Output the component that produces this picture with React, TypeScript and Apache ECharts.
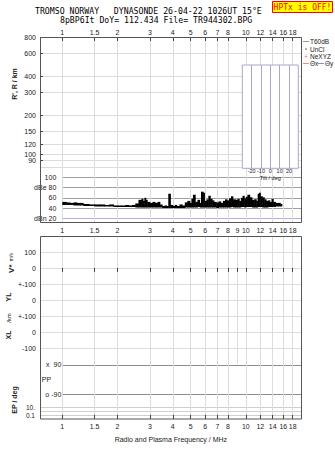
import React, { useEffect, useRef } from 'react';
import * as echarts from 'echarts';

// ---- tick values / labels ----
const freqTicks = [1, 1.5, 2, 3, 4, 5, 6, 7, 8, 10, 12, 14, 16, 18];
const freqTicksMid = [1, 1.5, 2, 3, 4, 5, 6, 7, 8, 9, 10, 12, 14, 16, 18];
const heightTicks = [80, 90, 100, 120, 150, 200, 300, 400, 600, 800];
const dbTicks = [20, 40, 60, 80, 100];
const dbTickLabels = ['dBn 20', '40', '60', 'dBe 80', '100'];
const stackTicks = [100, 0, -100, -200, -300, -400, -500];
const stackTickLabels = ['100', '0', '+-100', '0', '+-100', '0', '-100'];
const ppTicks = [90, -90];
const ppTickLabels = ['x  90', 'o -90'];
const epTicks = [0.1, 1, 10];
const epTickLabels = ['0.1', '', '10.'];
const tiltTicks = [-20, -10, 0, 10, 20];

// ---- noise (dB) vs frequency (MHz) ----
const noiseFreq = [
  1.0, 1.05, 1.1, 1.15, 1.2, 1.25, 1.3, 1.4, 1.5, 1.6, 1.7, 1.8, 1.9, 2.0, 2.1, 2.2, 2.3, 2.4,
  2.5, 2.6, 2.7, 2.75, 2.8, 2.85, 2.9, 3.0, 3.1, 3.2, 3.3, 3.4, 3.5, 3.6, 3.7, 3.78, 3.88,
  4.0, 4.1, 4.2, 4.35, 4.5, 4.65, 4.8, 4.95, 5.05, 5.15, 5.3, 5.45, 5.6, 5.7, 5.85, 5.95,
  6.1, 6.25, 6.4, 6.55, 6.7, 6.9, 7.1, 7.3, 7.5, 7.7, 7.9, 8.1, 8.3, 8.5, 8.8, 9.0, 9.2,
  9.4, 9.6, 9.8, 10.0, 10.2, 10.5, 10.8, 11.1, 11.4, 11.6, 11.8, 12.0, 12.3, 12.6, 12.9,
  13.2, 13.5, 13.8, 14.1, 14.5, 15.0, 15.4,
];
const noiseLo = [
  46, 46, 46, 45, 45, 45, 44, 44, 43, 43, 43, 43, 42, 42, 42, 42, 42, 42,
  41, 41, 41, 41, 41, 41, 41, 41, 41, 41, 41, 41, 40, 40, 40, 40, 40,
  40, 40, 40, 40, 40, 41, 41, 41, 41, 41, 41, 42, 41, 41, 41, 41,
  41, 41, 41, 41, 41, 40, 41, 41, 41, 41, 41, 41, 42, 41, 41, 41, 41,
  42, 42, 41, 42, 42, 42, 41, 41, 41, 42, 42, 42, 41, 41, 41,
  42, 42, 42, 42, 43, 43, 43,
];
const noiseHi = [
  52, 51, 50, 51, 50, 50, 48, 47, 47, 47, 46, 47, 45, 45, 45, 46, 45, 46,
  49, 56, 58, 54, 60, 56, 52, 50, 52, 50, 52, 47, 44, 45, 44, 68, 46,
  44, 46, 44, 47, 45, 51, 54, 50, 58, 66, 52, 56, 50, 72, 70, 54,
  57, 64, 58, 55, 52, 51, 53, 50, 54, 57, 55, 59, 63, 57, 56, 58, 54,
  60, 64, 59, 62, 66, 61, 56, 57, 54, 68, 70, 63, 61, 57, 54,
  55, 52, 58, 52, 50, 50, 48,
];

const FONT = '"Liberation Sans", Arial, sans-serif';
const MONO = '"DejaVu Sans Mono", monospace';
const FMIN = 0.7558;
const FMAX = 20.16;
const GRID_LIGHT = '#dcdcdc';
const TICK_C = '#444';
const LABEL_C = '#222';

const fmtFreq = (v: number) => String(Math.round(v * 10) / 10);
const pick = (vals: number[], labels: string[]) => (v: number) => {
  let best = 0;
  for (let i = 1; i < vals.length; i++) {
    if (Math.abs(vals[i] - v) < Math.abs(vals[best] - v)) best = i;
  }
  return labels[best];
};

export default function App() {
  const ref = useRef<HTMLDivElement>(null);
  useEffect(() => {
    if (!ref.current) return;
    const chart = echarts.init(ref.current, undefined, { renderer: 'svg' });

    const freqX = (grid: number, min: number, extra: any) => ({
      type: 'log',
      gridIndex: grid,
      min,
      max: FMAX,
      axisLine: { show: false },
      axisTick: { show: false, customValues: freqTicks },
      axisLabel: { show: false, customValues: freqTicks },
      splitLine: { show: true, lineStyle: { color: GRID_LIGHT, width: 1 } },
      ...extra,
    });

    const noiseData = noiseFreq.map((f, i) => [
      f,
      noiseLo[i],
      noiseHi[i],
      i < noiseFreq.length - 1 ? noiseFreq[i + 1] : f * 1.02,
    ]);

    const option: any = {
      animation: false,
      backgroundColor: '#fff',
      grid: [
        { left: 40, width: 261.7, top: 37, height: 135.3 },
        { left: 62.3, width: 239.4, top: 172.3, height: 50 },
        { left: 40, width: 261.7, top: 236, height: 128 },
        { left: 62.3, width: 239.4, top: 364, height: 36 },
        { left: 40, width: 261.7, top: 400, height: 19 },
        {
          left: 242.3, width: 56, top: 65, height: 103.3, show: true,
          backgroundColor: '#fff', borderColor: '#a8a8c8', borderWidth: 1, z: 3,
        },
      ],
      xAxis: [
        freqX(0, FMIN, {
          position: 'top',
          axisTick: { show: true, inside: true, length: 4, customValues: freqTicks, lineStyle: { color: TICK_C } },
          axisLabel: { show: true, customValues: freqTicks, fontSize: 7, fontFamily: FONT, color: LABEL_C, margin: 1, formatter: fmtFreq },
        }),
        freqX(1, 1, {}),
        freqX(2, FMIN, {
          position: 'top',
          axisTick: { show: true, inside: true, length: 4, customValues: freqTicksMid, lineStyle: { color: TICK_C } },
          axisLabel: { show: true, customValues: freqTicksMid, fontSize: 7, fontFamily: FONT, color: LABEL_C, margin: 2.5, formatter: fmtFreq },
        }),
        freqX(3, 1, {}),
        freqX(4, FMIN, {
          position: 'bottom',
          axisTick: { show: true, inside: true, length: 4, customValues: freqTicks, lineStyle: { color: TICK_C } },
          axisLabel: { show: true, customValues: freqTicks, fontSize: 7, fontFamily: FONT, color: LABEL_C, margin: 3.5, formatter: fmtFreq },
          name: 'Radio and Plasma Frequency / MHz',
          nameLocation: 'middle',
          nameGap: 17,
          nameTextStyle: { fontSize: 7, fontFamily: FONT, color: LABEL_C },
        }),
        {
          type: 'value', gridIndex: 5, min: -30, max: 30, z: 4,
          axisLine: { show: false },
          axisTick: { show: false, customValues: tiltTicks },
          axisLabel: { show: true, customValues: tiltTicks, fontSize: 5.5, fontFamily: FONT, color: LABEL_C, margin: 0 },
          splitLine: { show: true, lineStyle: { color: '#a8a8c8' } },
          name: 'Tilt / deg', nameLocation: 'middle', nameGap: 3.5,
          nameTextStyle: { fontSize: 5.5, fontFamily: FONT, color: LABEL_C },
        },
      ],
      yAxis: [
        {
          type: 'log', gridIndex: 0, min: 73, max: 800,
          axisLine: { show: false },
          axisTick: { show: true, inside: true, length: 3, customValues: heightTicks, lineStyle: { color: TICK_C } },
          axisLabel: { customValues: heightTicks, fontSize: 7, fontFamily: FONT, color: LABEL_C, margin: 4, formatter: (v: number) => String(Math.round(v)) },
          splitLine: { show: true, lineStyle: { color: GRID_LIGHT } },
        },
        {
          type: 'value', gridIndex: 1, min: 12, max: 110,
          axisLine: { show: false },
          axisTick: { show: false, customValues: dbTicks },
          axisLabel: { customValues: dbTicks, fontSize: 7, fontFamily: FONT, color: LABEL_C, margin: 6, formatter: pick(dbTicks, dbTickLabels) },
          splitLine: { show: true, lineStyle: { color: ['#b0b0ea', '#a0a0a0', '#a0a0a0', '#a0a0a0', '#a0a0a0'] } },
        },
        {
          type: 'value', gridIndex: 2, min: -600, max: 200,
          axisLine: { show: false },
          axisTick: { show: false, customValues: stackTicks },
          axisLabel: { customValues: stackTicks, fontSize: 7, fontFamily: FONT, color: LABEL_C, margin: 4, formatter: pick(stackTicks, stackTickLabels) },
          splitLine: { show: true, lineStyle: { color: GRID_LIGHT } },
        },
        {
          type: 'value', gridIndex: 3, min: -127, max: 96,
          axisLine: { show: false },
          axisTick: { show: false, customValues: ppTicks },
          axisLabel: { customValues: ppTicks, fontSize: 7, fontFamily: FONT, color: LABEL_C, margin: 1, formatter: pick(ppTicks, ppTickLabels) },
          splitLine: { show: true, lineStyle: { color: '#8a8a8a' } },
        },
        {
          type: 'log', gridIndex: 4, min: 0.01, max: 800,
          axisLine: { show: false },
          axisTick: { show: false, customValues: epTicks },
          axisLabel: { customValues: epTicks, fontSize: 6.5, fontFamily: FONT, color: LABEL_C, margin: 5, formatter: pick(epTicks, epTickLabels) },
          splitLine: { show: true, lineStyle: { color: '#d0d0d0' } },
        },
        { type: 'value', gridIndex: 5, min: 0, max: 1, show: false },
      ],
      series: [
        {
          type: 'custom',
          name: 'noise',
          xAxisIndex: 1,
          yAxisIndex: 1,
          data: noiseData,
          renderItem: (params: any, api: any) => {
            const p1 = api.coord([api.value(0), api.value(2)]);
            const p2 = api.coord([api.value(3), api.value(1)]);
            return {
              type: 'rect',
              shape: { x: p1[0], y: p1[1], width: p2[0] - p1[0] + 0.5, height: p2[1] - p1[1] },
              style: { fill: '#000' },
            };
          },
        },
      ],
      graphic: [
        // frames
        { type: 'rect', shape: { x: 40.5, y: 37.5, width: 261, height: 185 }, style: { fill: 'none', stroke: '#555', lineWidth: 1 }, z: 10 },
        { type: 'rect', shape: { x: 40.5, y: 236.5, width: 261, height: 182.5 }, style: { fill: 'none', stroke: '#555', lineWidth: 1 }, z: 10 },
        // header
        { type: 'text', x: 35, y: 10.5, style: { text: 'TROMSO NORWAY   DYNASONDE 26-04-22 1026UT 15°E', font: `8.2px ${MONO}`, fill: '#000', align: 'left', verticalAlign: 'middle' } },
        { type: 'text', x: 60, y: 20, style: { text: '8pBP6It DoY= 112.434 File= TR944302.BPG', font: `8.2px ${MONO}`, fill: '#000', align: 'left', verticalAlign: 'middle' } },
        { type: 'rect', shape: { x: 272.5, y: 1.5, width: 60, height: 11 }, style: { fill: '#ffff00', stroke: '#ff0000', lineWidth: 1 } },
        { type: 'text', x: 302.5, y: 7.2, style: { text: 'HPTx is OFF!', font: `8px ${MONO}`, fill: '#ff0000', align: 'center', verticalAlign: 'middle' } },
        // legend
        { type: 'line', shape: { x1: 303, y1: 41.5, x2: 309, y2: 41.5 }, style: { stroke: '#9a9a9a', lineWidth: 1 } },
        { type: 'text', x: 310, y: 41.5, style: { text: 'T60dB', font: `6.5px ${FONT}`, fill: LABEL_C, align: 'left', verticalAlign: 'middle' } },
        { type: 'circle', shape: { cx: 306, cy: 49, r: 0.7 }, style: { fill: '#333' } },
        { type: 'text', x: 310, y: 49, style: { text: 'UnCl', font: `6.5px ${FONT}`, fill: LABEL_C, align: 'left', verticalAlign: 'middle' } },
        { type: 'text', x: 306, y: 56.3, style: { text: '+', font: `7px ${FONT}`, fill: '#e87c9c', align: 'center', verticalAlign: 'middle' } },
        { type: 'text', x: 310, y: 56.3, style: { text: 'NeXYZ', font: `6.5px ${FONT}`, fill: LABEL_C, align: 'left', verticalAlign: 'middle' } },
        { type: 'line', shape: { x1: 303, y1: 63.5, x2: 309, y2: 63.5 }, style: { stroke: '#f08a8a', lineWidth: 1 } },
        { type: 'text', x: 310, y: 63.7, style: { text: 'Θx', font: `6.5px ${FONT}`, fill: LABEL_C, align: 'left', verticalAlign: 'middle' } },
        { type: 'line', shape: { x1: 318, y1: 63.5, x2: 324, y2: 63.5 }, style: { stroke: '#7a8ef0', lineWidth: 1 } },
        { type: 'text', x: 325, y: 63.7, style: { text: 'Θy', font: `6.5px ${FONT}`, fill: LABEL_C, align: 'left', verticalAlign: 'middle' } },
        // PP label
        { type: 'text', x: 46.5, y: 379.5, style: { text: 'PP', font: `7px ${FONT}`, fill: LABEL_C, align: 'center', verticalAlign: 'middle' } },
        // rotated axis titles
        { type: 'text', x: 14, y: 84, rotation: Math.PI / 2, style: { text: "R', R / km", font: `bold 7px ${FONT}`, fill: LABEL_C, align: 'center', verticalAlign: 'middle' } },
        {
          type: 'text', x: 11, y: 263, rotation: Math.PI / 2,
          style: {
            text: '{a|V*} {b|m/s}', align: 'center', verticalAlign: 'middle', fill: LABEL_C,
            rich: { a: { font: `bold 8px ${FONT}`, fill: LABEL_C }, b: { font: `5px ${FONT}`, fill: LABEL_C } },
          },
        },
        { type: 'text', x: 8.5, y: 297, rotation: Math.PI / 2, style: { text: 'YL', font: `bold 7px ${FONT}`, fill: LABEL_C, align: 'center', verticalAlign: 'middle' } },
        { type: 'text', x: 8.5, y: 318, rotation: Math.PI / 2, style: { text: '/km', font: `6px ${FONT}`, fill: LABEL_C, align: 'center', verticalAlign: 'middle' } },
        { type: 'text', x: 8.5, y: 335, rotation: Math.PI / 2, style: { text: 'XL', font: `bold 7px ${FONT}`, fill: LABEL_C, align: 'center', verticalAlign: 'middle' } },
        { type: 'text', x: 14, y: 400, rotation: Math.PI / 2, style: { text: 'EP / deg', font: `bold 7px ${FONT}`, fill: LABEL_C, align: 'center', verticalAlign: 'middle' } },
      ],
    };

    chart.setOption(option);
    return () => chart.dispose();
  }, []);

  return (
    <div
      ref={ref}
      style={{ position: 'fixed', left: 0, top: 0, width: 335, height: 451, background: '#fff' }}
    />
  );
}
